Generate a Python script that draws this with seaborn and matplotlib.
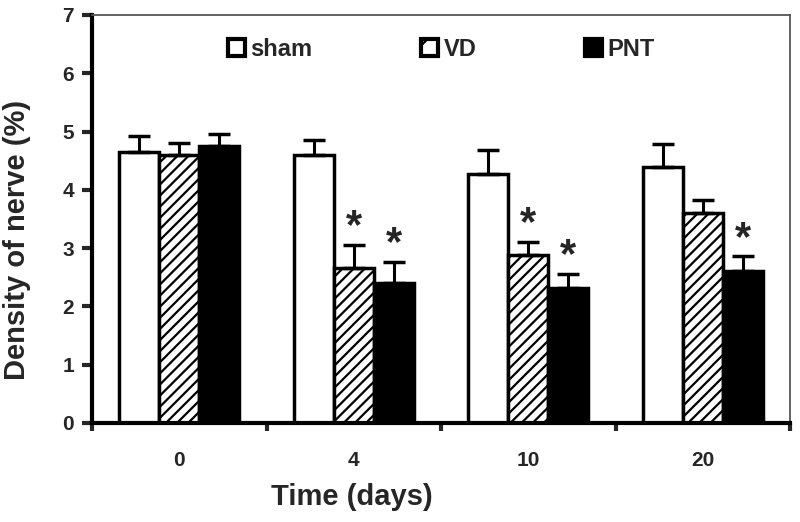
import numpy as np
import pandas as pd
import matplotlib
matplotlib.use("Agg")
import matplotlib.pyplot as plt
from matplotlib.patches import Patch
import seaborn as sns

# ---- data ----
times = ["0", "4", "10", "20"]
groups = ["sham", "VD", "PNT"]
sham = [4.65, 4.60, 4.28, 4.40]
sham_err = [0.28, 0.26, 0.40, 0.38]
vd = [4.60, 2.66, 2.89, 3.60]
vd_err = [0.20, 0.40, 0.22, 0.23]
pnt = [4.75, 2.40, 2.31, 2.60]
pnt_err = [0.20, 0.37, 0.25, 0.26]
sham_sig = [0, 0, 0, 0]
vd_sig = [0, 1, 1, 0]
pnt_sig = [0, 1, 1, 1]
yticks = [0, 1, 2, 3, 4, 5, 6, 7]

means = {"sham": sham, "VD": vd, "PNT": pnt}
errs = {"sham": sham_err, "VD": vd_err, "PNT": pnt_err}
sigs = {"sham": sham_sig, "VD": vd_sig, "PNT": pnt_sig}

df = pd.DataFrame({
    "time": np.repeat([times], 3, axis=0).ravel(),
    "group": np.repeat(groups, len(times)),
    "density": sham + vd + pnt,
})

sns.set_style("white")
plt.rcParams["font.family"] = ["Liberation Sans", "DejaVu Sans"]
plt.rcParams["font.weight"] = "bold"
plt.rcParams["hatch.linewidth"] = 1.6

fig = plt.figure(figsize=(8, 5.22), dpi=100)
ax = fig.add_axes([92 / 800, 1 - 423 / 522, (790 - 92) / 800, (423 - 15) / 522])

palette = {"sham": "white", "VD": "white", "PNT": "black"}
sns.barplot(data=df, x="time", y="density", hue="group", order=times,
            hue_order=groups, palette=palette, edgecolor="black",
            linewidth=2.5, width=0.69, gap=0, errorbar=None, legend=False,
            saturation=1, ax=ax)

for gi, g in enumerate(groups):
    cont = ax.containers[gi]
    xs, ys = [], []
    for bar in cont:
        if g == "VD":
            bar.set_hatch("///")
        xs.append(bar.get_x() + bar.get_width() / 2)
        ys.append(bar.get_height())
    e = np.array(errs[g])
    ax.errorbar(xs, ys, yerr=[np.zeros_like(e), e], fmt="none", ecolor="black",
                elinewidth=2.2, capsize=8, capthick=2.5, zorder=1)
    for x, y, err, s in zip(xs, ys, e, sigs[g]):
        if s:
            ax.annotate("*", (x, y + err), xytext=(0, -2), textcoords="offset points",
                        ha="center", va="bottom", fontsize=30, fontweight="bold")

ax.set_ylim(0, 7)
ax.set_xlim(-0.5, 3.5)
ax.set_yticks(yticks)
ax.set_yticklabels([str(t) for t in yticks], fontsize=15, fontweight="bold")
ax.tick_params(axis="y", direction="out", length=7, width=3, pad=6, left=True)

ax.set_xticks(np.arange(-0.5, len(times), 1.0))
ax.set_xticklabels([])
ax.tick_params(axis="x", which="major", direction="out", length=6, width=3, bottom=True)
ax.set_xticks(range(len(times)), minor=True)
ax.set_xticklabels(times, minor=True, fontsize=15, fontweight="bold")
ax.tick_params(axis="x", which="minor", length=0, pad=20)

for side in ["left", "bottom"]:
    ax.spines[side].set_linewidth(3)
    ax.spines[side].set_color("black")
for side in ["top", "right"]:
    ax.spines[side].set_linewidth(1.3)
    ax.spines[side].set_color("#555555")
    ax.spines[side].set_visible(True)

ax.set_xlabel("Time (days)", fontsize=21, fontweight="bold")
ax.xaxis.set_label_coords((352 - 92) / 698, (423 - 497) / 408)
ax.xaxis.label.set_va("center")
ax.set_ylabel("Density of nerve (%)", fontsize=21, fontweight="bold")
ax.yaxis.set_label_coords((17 - 92) / 698, (423 - 240) / 408)
ax.yaxis.label.set_va("center")

handles = [
    Patch(facecolor="white", edgecolor="black", linewidth=3, label="sham"),
    Patch(facecolor="white", edgecolor="black", linewidth=3, hatch="/", label="VD"),
    Patch(facecolor="black", edgecolor="black", linewidth=3, label="PNT"),
]
leg = ax.legend(handles=handles, ncol=3, frameon=False, loc="center left",
                bbox_to_anchor=((228 - 92) / 698, (423 - 49) / 408),
                handlelength=0.7, handleheight=0.7,
                handletextpad=0.25, columnspacing=4.6, borderaxespad=0,
                borderpad=0, prop={"weight": "bold", "size": 17})

fig.savefig("out.png", dpi=100, facecolor="white")
